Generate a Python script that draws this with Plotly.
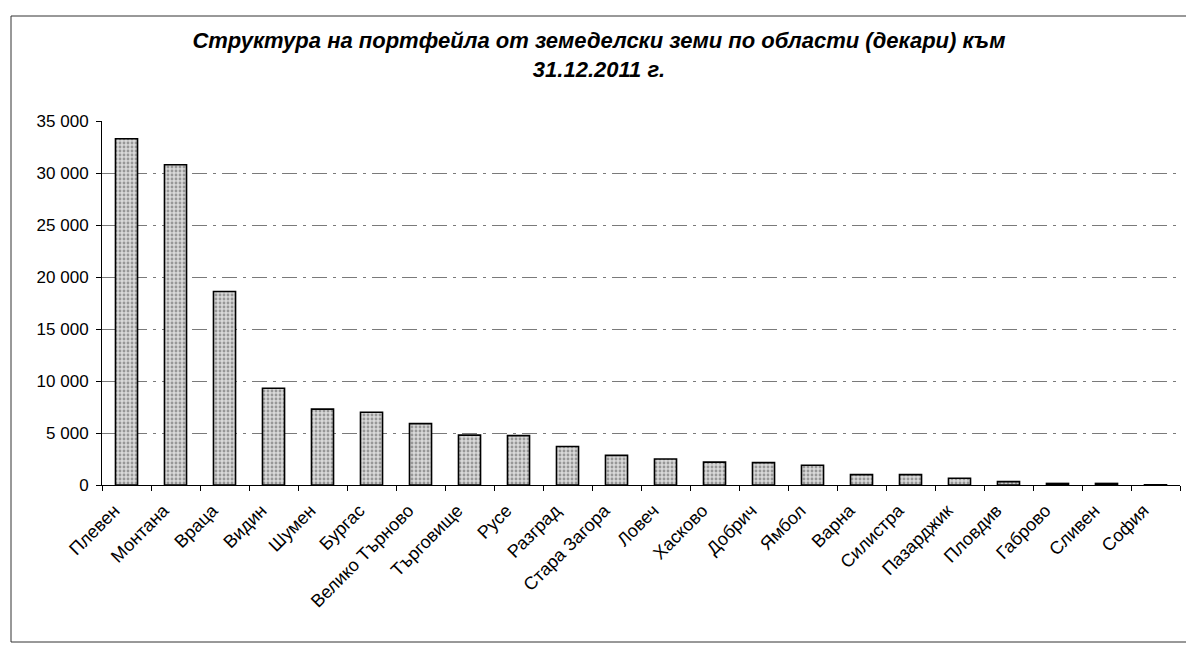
import plotly.graph_objects as go

regions = ["Плевен", "Монтана", "Враца", "Видин", "Шумен", "Бургас", "Велико Търново",
           "Търговище", "Русе", "Разград", "Стара Загора", "Ловеч", "Хасково", "Добрич",
           "Ямбол", "Варна", "Силистра", "Пазарджик", "Пловдив", "Габрово", "Сливен", "София"]
values = [33300, 30800, 18600, 9300, 7300, 7000, 5900,
          4800, 4750, 3700, 2850, 2500, 2200, 2150,
          1900, 1000, 1000, 650, 320, 150, 150, 20]
y_ticks = [0, 5000, 10000, 15000, 20000, 25000, 30000, 35000]

W, H = 1186, 646
ml, mr, mt, mb = 102, 6, 121, 161

fig = go.Figure(go.Bar(
    x=regions, y=values,
    marker=dict(color="#cccccc",
                line=dict(color="black", width=1.6),
                pattern=dict(shape=".", fgcolor="#555555", bgcolor="#d9d9d9",
                             size=4, solidity=0.4)),
    width=0.45,
))

fig.update_layout(
    width=W, height=H,
    margin=dict(l=ml, r=mr, t=mt, b=mb, autoexpand=False),
    paper_bgcolor="white", plot_bgcolor="white",
    separators=", ",
    showlegend=False,
    font=dict(family="Liberation Sans, Arial, sans-serif", color="black", size=16),
    title=dict(text="<b><i>Структура на портфейла от земеделски земи по области (декари) към<br>31.12.2011 г.</i></b>",
               x=0.505, xanchor="center", y=0.925, yanchor="top",
               font=dict(size=22, family="Liberation Sans, Arial, sans-serif")),
)

fig.update_xaxes(
    showline=True, linecolor="black", linewidth=1,
    ticks="outside", ticklen=5, tickcolor="black", tickson="boundaries",
    tickangle=-45, tickfont=dict(size=18),
    ticklabelshift=-12, ticklabelstandoff=7,
    showgrid=False, automargin=False,
)
fig.update_yaxes(
    range=[0, 35000], tickvals=y_ticks, tickformat=",d",
    showline=True, linecolor="black", linewidth=1,
    ticks="outside", ticklen=5, tickcolor="black",
    showgrid=True, gridcolor="#7a7a7a", gridwidth=1, griddash="longdashdot",
    tickfont=dict(size=17), ticklabelstandoff=4, zeroline=False, automargin=False,
)

# outer frame of the chart object (pixel positions converted to paper coords)
pw = W - ml - mr
ph = H - mt - mb
x0 = (11 - ml) / pw
x1 = (W + 5 - ml) / pw
y_bottom = -((H - 4) - (H - mb)) / ph
y_top = 1 + (mt - 16) / ph
fig.add_shape(type="rect", xref="paper", yref="paper",
              x0=x0, x1=x1, y0=y_bottom, y1=y_top,
              line=dict(color="#333", width=1))

fig.write_html("out.html", config={"displayModeBar": False})

# remove the default browser body margin so the figure sits at the page origin
with open("out.html", encoding="utf-8") as f:
    html = f.read()
html = html.replace("<body>", "<body style=\"margin:0;overflow:hidden\">", 1)
with open("out.html", "w", encoding="utf-8") as f:
    f.write(html)
